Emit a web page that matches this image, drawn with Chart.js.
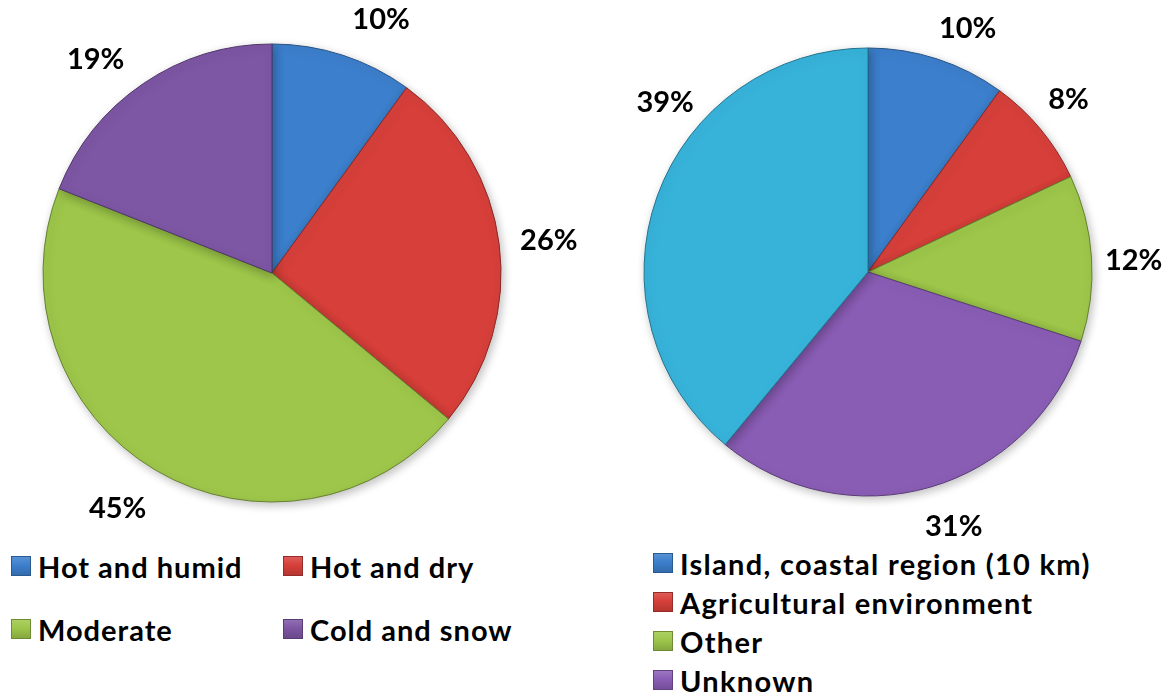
<!DOCTYPE html>
<html lang="en">
<head>
    <meta charset="UTF-8">
    <title>Climate and environment share</title>
    <script src="https://cdn.jsdelivr.net/npm/chart.js"></script>
    <style>
        html, body {
            margin: 0;
            width: 1172px;
            height: 697px;
            overflow: hidden;
            background: #ffffff;
            font-family: Lato, "Open Sans", sans-serif;
        }
        .pie { position: absolute; top: 0; }
        #leftPie { left: 0; }
        #rightPie { left: 586px; }
        .legend {
            position: absolute;
            font-weight: bold;
            font-size: 29px;
            letter-spacing: 1px;
            color: #000;
        }
        #rightLegend { letter-spacing: 1.3px; }
        .legend .item {
            position: absolute;
            display: flex;
            align-items: center;
            white-space: nowrap;
            height: 30px;
        }
        .legend .box {
            width: 20px;
            height: 20px;
            margin-right: 7px;
            box-sizing: border-box;
        }
    </style>
</head>
<body>

    <div class="pie" id="leftPie" style="width:586px;height:546px"><canvas id="leftChart"></canvas></div>
    <div class="pie" id="rightPie" style="width:586px;height:544px"><canvas id="rightChart"></canvas></div>
    <div class="legend" id="leftLegend"></div>
    <div class="legend" id="rightLegend"></div>

    <script>
        // climate zones (left pie)
        const leftLabels = ['Hot and humid', 'Hot and dry', 'Moderate', 'Cold and snow'];
        const leftValues = [10, 26, 45, 19];
        const leftColors = ['#3c7fcc', '#d63f3a', '#9dc64a', '#7d56a4'];

        // environment (right pie) - last slice has no legend entry in view
        const rightLabels = ['Island, coastal region (10 km)', 'Agricultural environment', 'Other', 'Unknown', ''];
        const rightValues = [10, 8, 12, 31, 39];
        const rightColors = ['#3c7fcc', '#d63f3a', '#9dc64a', '#8a5db5', '#37b3da'];

        function shade(hex, f) {
            let n = parseInt(hex.slice(1), 16);
            let r = (n >> 16) & 255, g = (n >> 8) & 255, b = n & 255;
            const c = v => Math.max(0, Math.min(255, Math.round(f < 0 ? v * (1 + f) : v + (255 - v) * f)));
            return 'rgb(' + c(r) + ',' + c(g) + ',' + c(b) + ')';
        }

        // slight bevel: darker rim
        function sliceFill(colors) {
            return function (ctx) {
                const arc = ctx.element;
                const base = colors[ctx.dataIndex];
                if (!arc || !arc.outerRadius) return base;
                const g = ctx.chart.ctx.createRadialGradient(arc.x, arc.y, 0, arc.x, arc.y, arc.outerRadius);
                g.addColorStop(0, shade(base, 0.06));
                g.addColorStop(0.9, base);
                g.addColorStop(0.96, shade(base, -0.08));
                g.addColorStop(1, shade(base, -0.3));
                return g;
            };
        }

        const shadowPlugin = {
            id: 'pieShadow',
            beforeDatasetsDraw(chart) {
                const c = chart.ctx;
                c.save();
                c.shadowColor = 'rgba(0,0,0,0.25)';
                c.shadowBlur = 10;
                c.shadowOffsetX = 2;
                c.shadowOffsetY = 3;
            },
            afterDatasetsDraw(chart) {
                chart.ctx.restore();
            }
        };

        const pctLabels = {
            id: 'pctLabels',
            afterDraw(chart, args, opts) {
                const c = chart.ctx;
                const meta = chart.getDatasetMeta(0);
                const vals = chart.data.datasets[0].data;
                c.save();
                c.font = 'bold 29px Lato, sans-serif';
                c.fillStyle = '#000';
                c.textAlign = 'center';
                c.textBaseline = 'middle';
                meta.data.forEach((arc, i) => {
                    const shift = (opts.shift[i] || 0) * Math.PI / 180;
                    const a = (arc.startAngle + arc.endAngle) / 2 + shift;
                    const d = arc.outerRadius + opts.gap;
                    c.fillText(vals[i] + '%', arc.x + Math.cos(a) * d, arc.y + Math.sin(a) * d + 3);
                });
                c.restore();
            }
        };

        function makePie(id, labels, values, colors, radius, padding, labelOpts) {
            return new Chart(document.getElementById(id), {
                type: 'pie',
                data: {
                    labels: labels,
                    datasets: [{
                        data: values,
                        backgroundColor: sliceFill(colors),
                        borderColor: colors.map(c => shade(c, -0.35)),
                        borderWidth: 1,
                        radius: radius
                    }]
                },
                options: {
                    responsive: true,
                    maintainAspectRatio: false,
                    animation: false,
                    layout: { padding: padding },
                    plugins: {
                        legend: { display: false },
                        tooltip: { enabled: false },
                        pctLabels: labelOpts
                    }
                },
                plugins: [shadowPlugin, pctLabels]
            });
        }

        makePie('leftChart', leftLabels, leftValues, leftColors, 229,
            { left: 0, right: 42, top: 0, bottom: 0 },
            { gap: 50, shift: [5, 0, 3, -5] });
        makePie('rightChart', rightLabels, rightValues, rightColors, 224,
            { left: 0, right: 22, top: 0, bottom: 0 },
            { gap: 42, shift: [4, -1.5, 0.6, -2.6, 20.5] });

        function buildLegend(id, labels, colors, spots) {
            const el = document.getElementById(id);
            labels.forEach((lab, i) => {
                if (!lab) return;
                const item = document.createElement('div');
                item.className = 'item';
                item.style.left = spots[i][0] + 'px';
                item.style.top = (spots[i][1] - 15) + 'px';
                const box = document.createElement('span');
                box.className = 'box';
                box.style.background = 'linear-gradient(180deg,' + shade(colors[i], 0.15) + ',' + colors[i] + ' 45%,' + shade(colors[i], -0.15) + ')';
                box.style.border = '1px solid ' + shade(colors[i], -0.3);
                item.appendChild(box);
                item.appendChild(document.createTextNode(lab));
                el.appendChild(item);
            });
        }

        buildLegend('leftLegend', leftLabels, leftColors, [[11, 566], [283, 566], [11, 629], [283, 629]]);
        buildLegend('rightLegend', rightLabels, rightColors, [[653, 563], [653, 602], [653, 641], [653, 680], [653, 719]]);
    </script>
</body>
</html>
